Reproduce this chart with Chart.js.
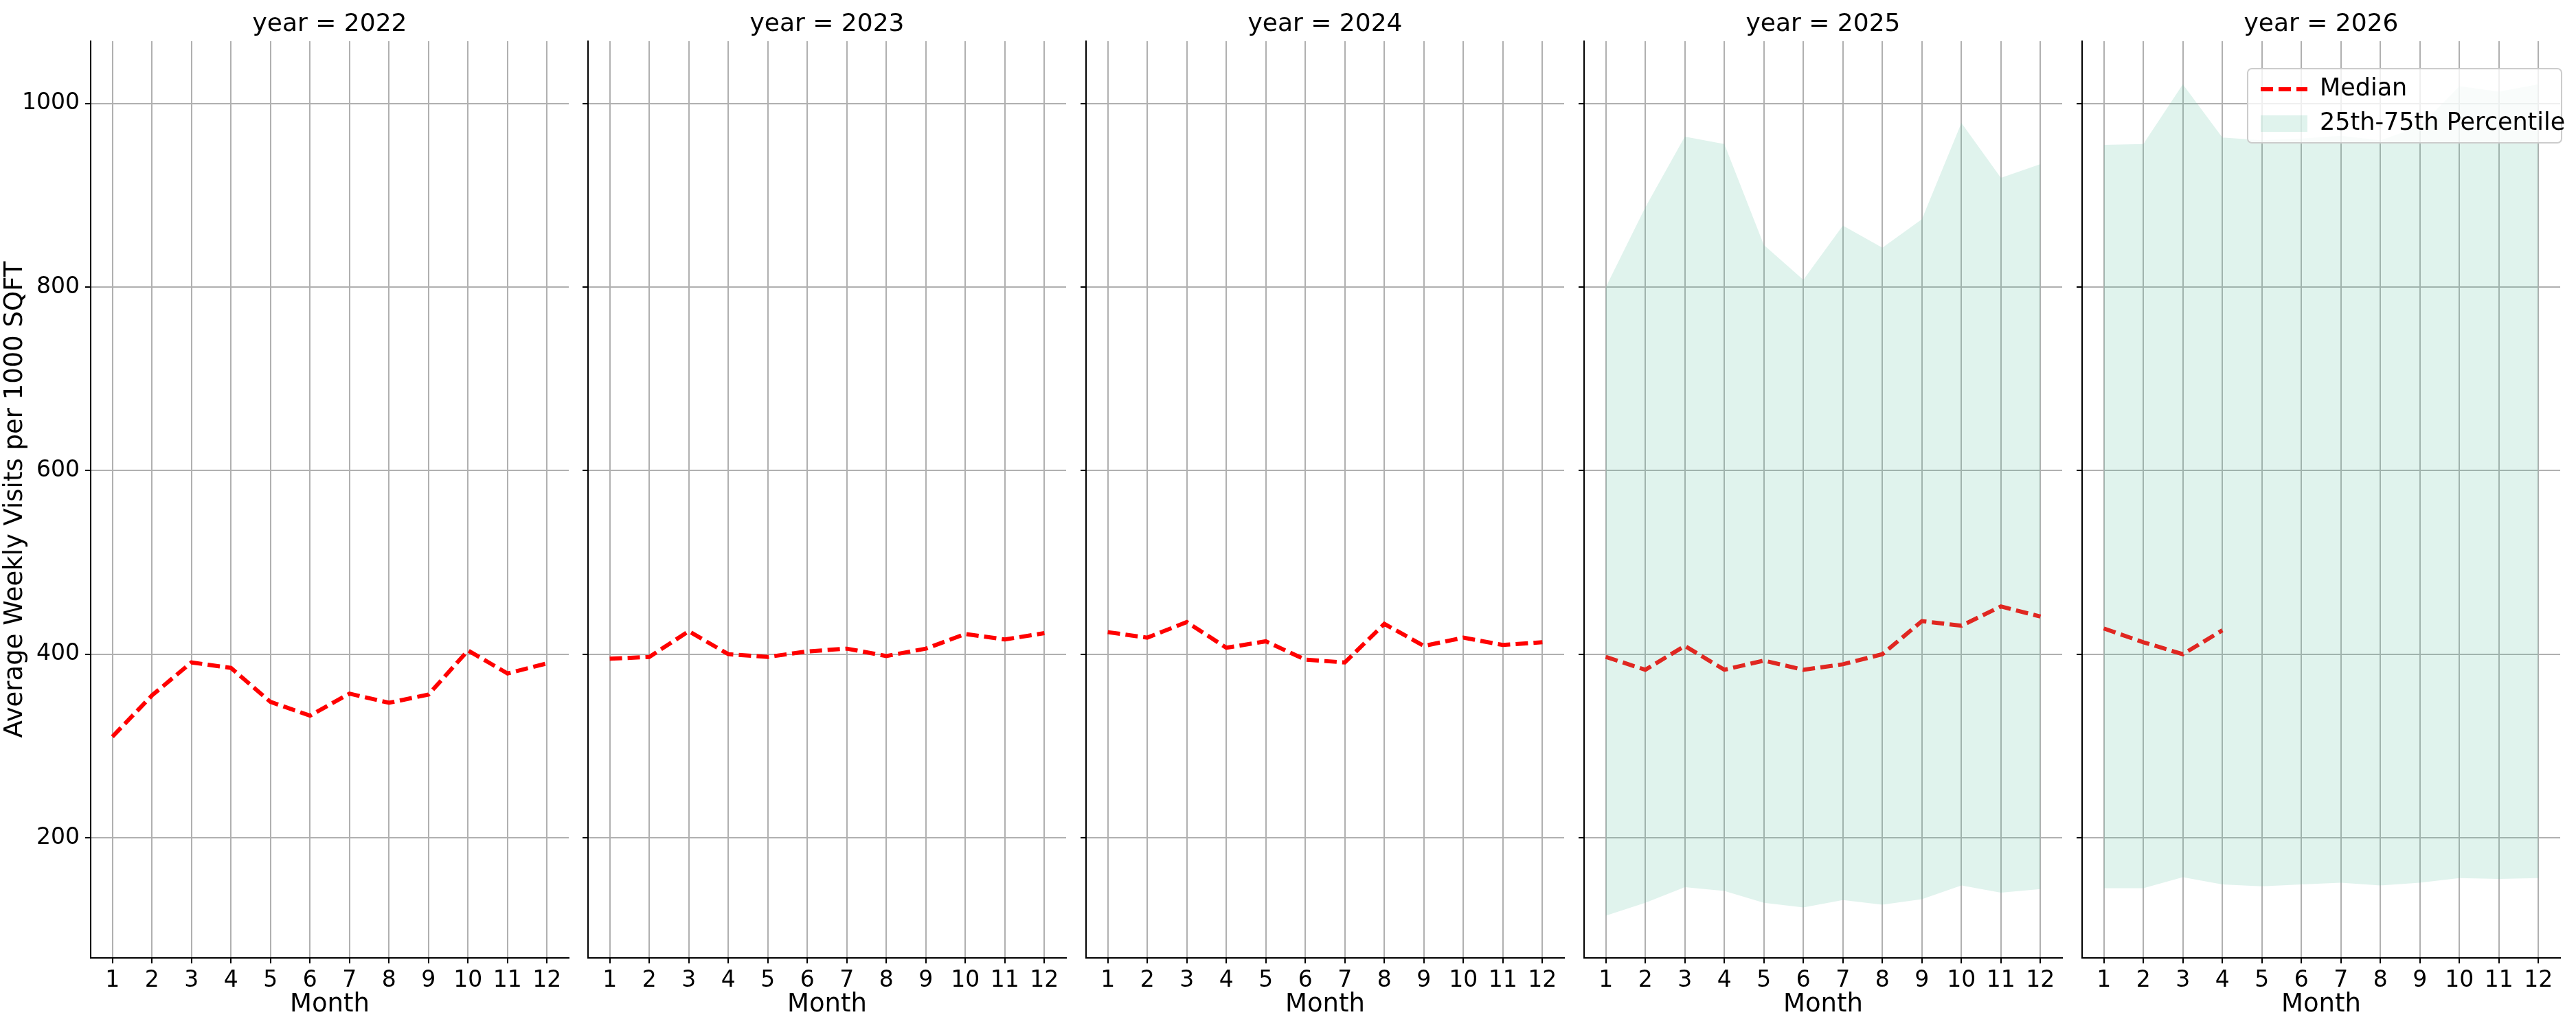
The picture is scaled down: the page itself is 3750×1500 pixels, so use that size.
<!DOCTYPE html>
<html><head><meta charset="utf-8">
<script src="https://cdn.jsdelivr.net/npm/chart.js@4/dist/chart.umd.min.js"></script>
<style>body{margin:0;background:#fff;width:3750px;height:1500px;position:relative;overflow:hidden}
canvas{position:absolute;top:0}</style></head><body>
<script>
const months=[1,2,3,4,5,6,7,8,9,10,11,12];
const years=['2022','2023','2024','2025','2026'];
const yTicks=[200,400,600,800,1000];
const median2022=[310,355,391,385,348,333,357,347,356,404,379,390];
const median2023=[395,397,425,400,397,403,406,398,406,422,416,423];
const median2024=[424,418,435,407,414,394,391,433,409,418,410,413];
const median2025=[397,383,409,383,393,383,389,400,436,431,452,441];
const median2026=[428,413,400,426];
const p25_2025=[115,129,146,142,129,124,132,127,133,148,140,144];
const p75_2025=[800,887,964,956,846,808,867,843,874,979,919,934];
const p25_2026=[145,145,157,149,147,149,151,148,151,156,155,156];
const p75_2026=[955,956,1021,963,960,962,965,960,975,1019,1013,1021];
const medians=[median2022,median2023,median2024,median2025,median2026];
const p25s=[null,null,null,p25_2025,p25_2026];
const p75s=[null,null,null,p75_2025,p75_2026];

const FONT='DejaVu Sans';
const lefts=[132,856,1581,2306,3031];
const PW=696, YW=132, CW=848;
function pts(arr){return arr.map((v,i)=>({x:months[i],y:v}));}
const fillCol='rgba(102,194,165,0.2)';

years.forEach((yr,idx)=>{
  const c=document.createElement('canvas');
  c.width=CW;c.height=1500;c.style.left=(lefts[idx]-YW)+'px';
  c.style.width=CW+'px';c.style.height='1500px';
  document.body.appendChild(c);
  const ds=[];
  if(p25s[idx]){
    ds.push({data:pts(p25s[idx]),borderWidth:0,pointRadius:0,fill:false,borderColor:'rgba(0,0,0,0)'});
    ds.push({data:pts(p75s[idx]),borderWidth:0,pointRadius:0,fill:'-1',backgroundColor:fillCol,borderColor:'rgba(0,0,0,0)'});
  }
  ds.push({data:pts(medians[idx]),borderColor:'#ff0000',borderWidth:6,borderDash:[18,8],pointRadius:0,fill:false,tension:0});
  const last=idx===4;
  new Chart(c,{type:'line',data:{datasets:ds},
    options:{responsive:false,animation:false,devicePixelRatio:1,
      layout:{padding:{top:60,right:CW-YW-PW,left:0,bottom:0}},
      plugins:{legend:{display:false},tooltip:{enabled:false},title:{display:false}},
      scales:{
        x:{type:'linear',min:0.45,max:12.55,
          afterBuildTicks:s=>{s.ticks=months.map(v=>({value:v}));},
          afterFit:s=>{s.height=105;},
          ticks:{font:{family:FONT,size:33},color:'#000',padding:6,autoSkip:false,maxRotation:0,callback:v=>String(v)},
          grid:{color:'#b0b0b0',lineWidth:2,tickLength:8,tickColor:'#000',tickWidth:2},
          border:{display:true,color:'#000',width:2},
          title:{display:true,text:'Month',font:{family:FONT,size:37},color:'#000',padding:{top:0,bottom:14}}},
        y:{type:'linear',min:69,max:1068,
          afterBuildTicks:s=>{s.ticks=yTicks.map(v=>({value:v}));},
          afterFit:s=>{s.width=YW;},
          ticks:{font:{family:FONT,size:33},color:idx===0?'#000':'rgba(0,0,0,0)',padding:8,callback:v=>String(v)},
          grid:{color:'#b0b0b0',lineWidth:2,tickLength:8,tickColor:'#000',tickWidth:2},
          border:{display:true,color:'#000',width:2},
          title:{display:idx===0,text:'Average Weekly Visits per 1000 SQFT',font:{family:FONT,size:37},color:'#000',padding:{top:0,bottom:0}}}
      }},
    plugins:[{id:'deco',afterDraw(ch){
      const g=ch.ctx;const a=ch.chartArea;
      g.save();g.fillStyle='#000';g.font='36px "'+FONT+'"';g.textAlign='center';g.textBaseline='middle';
      g.fillText('year = '+yr,(a.left+a.right)/2,36);
      if(last){
        const bx=373,by=100,bw=457,bh=108;
        g.fillStyle='rgba(255,255,255,0.8)';g.strokeStyle='#cccccc';g.lineWidth=2;
        g.beginPath();g.roundRect(bx,by,bw,bh,6);g.fill();g.stroke();
        g.strokeStyle='#ff0000';g.lineWidth=6;g.setLineDash([18,8]);
        g.beginPath();g.moveTo(392,130);g.lineTo(460,130);g.stroke();g.setLineDash([]);
        g.fillStyle=fillCol;g.fillRect(392,168,68,24);
        g.fillStyle='#000';g.font='35px "'+FONT+'"';g.textAlign='left';
        g.fillText('Median',478,130);g.fillText('25th-75th Percentile',478,180);
      }
      g.restore();
    }}]
  });
});
</script></body></html>
